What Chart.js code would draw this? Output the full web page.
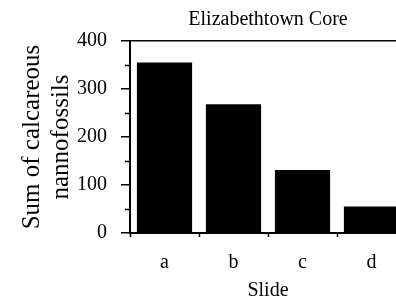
<!DOCTYPE html>
<html>
<head>
<meta charset="utf-8">
<script src="https://cdn.jsdelivr.net/npm/chart.js@4/dist/chart.umd.min.js"></script>
<style>
html,body{margin:0;padding:0;overflow:hidden;background:#fff;width:396px;height:299px;}
canvas{display:block;}
</style>
</head>
<body>
<canvas id="c" width="410" height="299"></canvas>
<script>
const categories = ['a', 'b', 'c', 'd'];
const nannofossilSums = [355, 268, 131, 55];
const yTickValues = [0, 100, 200, 300, 400];
const minorTickValues = [50, 150, 250, 350];
const chartTitle = 'Elizabethtown Core';
const yAxisTitle = ['Sum of calcareous', 'nannofossils'];
const xAxisTitle = 'Slide';

const serif = "'Liberation Serif', 'Times New Roman', serif";

const minorTicks = {
  id: 'minorTicks',
  afterDraw(chart) {
    const y = chart.scales.y;
    const ctx = chart.ctx;
    ctx.save();
    ctx.strokeStyle = '#000';
    ctx.lineWidth = 1.5;
    minorTickValues.forEach(v => {
      const py = Math.round(y.getPixelForValue(v)) + 0.5;
      ctx.beginPath();
      ctx.moveTo(y.right - 5, py);
      ctx.lineTo(y.right, py);
      ctx.stroke();
    });
    ctx.restore();
  }
};

new Chart(document.getElementById('c'), {
  type: 'bar',
  data: {
    labels: categories,
    datasets: [{
      data: nannofossilSums,
      backgroundColor: '#000',
      borderWidth: 0,
      categoryPercentage: 1,
      barPercentage: 0.8
    }]
  },
  options: {
    responsive: false,
    animation: false,
    devicePixelRatio: 1,
    layout: { padding: { left: 0, right: 4, top: 0, bottom: 0 } },
    plugins: {
      legend: { display: false },
      tooltip: { enabled: false },
      title: {
        display: true,
        text: chartTitle,
        fullSize: false,
        color: '#000',
        font: { family: serif, size: 20, weight: 'normal', lineHeight: 1.2 },
        padding: { top: 8, bottom: 9 }
      }
    },
    scales: {
      x: {
        type: 'category',
        offset: true,
        grid: {
          display: true,
          offset: true,
          drawOnChartArea: false,
          drawTicks: true,
          tickLength: 4,
          tickWidth: 1.5,
          tickColor: '#000'
        },
        border: { display: true, color: '#000', width: 2 },
        ticks: {
          color: '#000',
          padding: 14,
          font: { family: serif, size: 20 }
        },
        title: {
          display: true,
          text: xAxisTitle,
          color: '#000',
          font: { family: serif, size: 20, lineHeight: '16px' },
          padding: { top: 0, bottom: 0 }
        },
        afterFit(scale) { scale.height = 66; }
      },
      y: {
        min: 0,
        max: 400,
        afterBuildTicks(scale) { scale.ticks = yTickValues.map(v => ({ value: v })); },
        grid: {
          display: true,
          drawOnChartArea: true,
          drawTicks: true,
          tickLength: 9,
          tickWidth: 1.5,
          tickColor: '#000',
          lineWidth: 1.5,
          color: ctx => (ctx.tick && (ctx.tick.value === 400 || ctx.tick.value === 0)) ? '#000' : 'rgba(0,0,0,0)'
        },
        border: { display: true, color: '#000', width: 2 },
        ticks: {
          color: '#000',
          padding: 14,
          font: { family: serif, size: 20 }
        },
        title: {
          display: true,
          text: yAxisTitle,
          color: '#000',
          font: { family: serif, size: 25, lineHeight: '29px' },
          padding: { top: 18, bottom: 0 }
        },
        afterFit(scale) { scale.width = 130; }
      }
    }
  },
  plugins: [minorTicks]
});
</script>
</body>
</html>
